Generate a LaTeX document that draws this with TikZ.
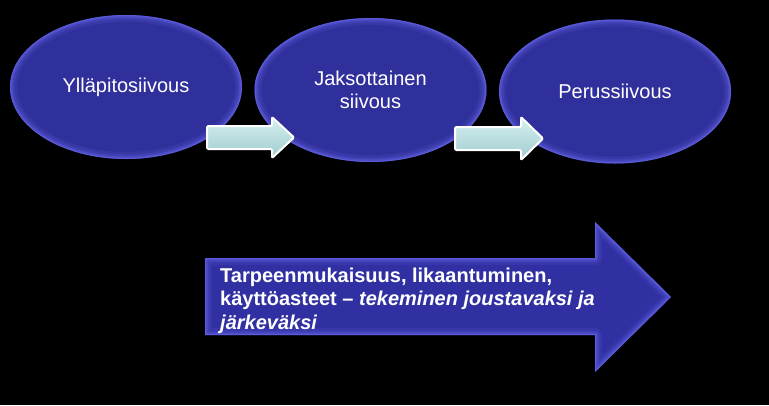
\documentclass[tikz,border=0pt]{standalone}
\usepackage{fontspec}
\setmainfont{Liberation Sans}
\usetikzlibrary{shapes.geometric}
\definecolor{ellin}{RGB}{48,48,156}
\definecolor{glowc}{RGB}{108,108,242}
\definecolor{arrin}{RGB}{48,48,162}
\definecolor{smtop}{RGB}{214,240,240}
\definecolor{smbot}{RGB}{160,204,207}
\tikzset{
  glowline/.style={draw=glowc, line join=round},
  stage/.style={ellipse, fill=ellin, minimum width=232pt, minimum height=144pt,
    inner sep=0pt, text=white, align=center, font=\fontsize{20}{23}\selectfont,
    path picture={
      \draw[glowline, line width=14pt, opacity=.12] (path picture bounding box.center) ellipse [x radius=116pt, y radius=72pt];
      \draw[glowline, line width=9pt, opacity=.18] (path picture bounding box.center) ellipse [x radius=116pt, y radius=72pt];
      \draw[glowline, line width=5pt, opacity=.3] (path picture bounding box.center) ellipse [x radius=116pt, y radius=72pt];
      \draw[glowline, line width=2pt, opacity=.45] (path picture bounding box.center) ellipse [x radius=116pt, y radius=72pt];
    }},
  smallarrow/.style={draw=white, line width=2pt, rounded corners=1.2pt,
    top color=smtop, bottom color=smbot},
  bigtext/.style={text=white, align=left, anchor=north west, inner sep=0pt,
    font=\fontsize{20}{23.5}\selectfont\bfseries}
}
\begin{document}
\begin{tikzpicture}[x=1pt,y=-1pt]
\fill[black] (0,0) rectangle (769,405);
\useasboundingbox (0,0) rectangle (769,405);
% stages
\node[stage] (e1) at (126,87) {Ylläpitosiivous};
\node[stage] (e2) at (370.5,90) {Jaksottainen\\siivous};
\node[stage] (e3) at (615,91.5) {Perussiivous};
% small arrows between stages
\draw[smallarrow] (207,126) -- (272,126) -- (272,117) -- (294,137.5) -- (272,158) -- (272,149) -- (207,149) -- cycle;
\draw[smallarrow] (455,127) -- (521,127) -- (521,117) -- (543,138.5) -- (521,160) -- (521,150) -- (455,150) -- cycle;
% big arrow
\def\bigarrow{(205,258) -- (595,258) -- (595,222) -- (671,297) -- (595,372) -- (595,335) -- (205,335) -- cycle}
\fill[arrin] \bigarrow;
\begin{scope}
  \clip \bigarrow;
  \draw[glowline, line width=14pt, opacity=.12] \bigarrow;
  \draw[glowline, line width=9pt, opacity=.18] \bigarrow;
  \draw[glowline, line width=5pt, opacity=.3] \bigarrow;
  \draw[glowline, line width=2pt, opacity=.45] \bigarrow;
\end{scope}
\node[bigtext] (t) at (220,267.5) {Tarpeenmukaisuus, likaantuminen,\\käyttöasteet -- \textit{tekeminen joustavaksi ja}\\\textit{järkeväksi}};
\end{tikzpicture}
\end{document}
